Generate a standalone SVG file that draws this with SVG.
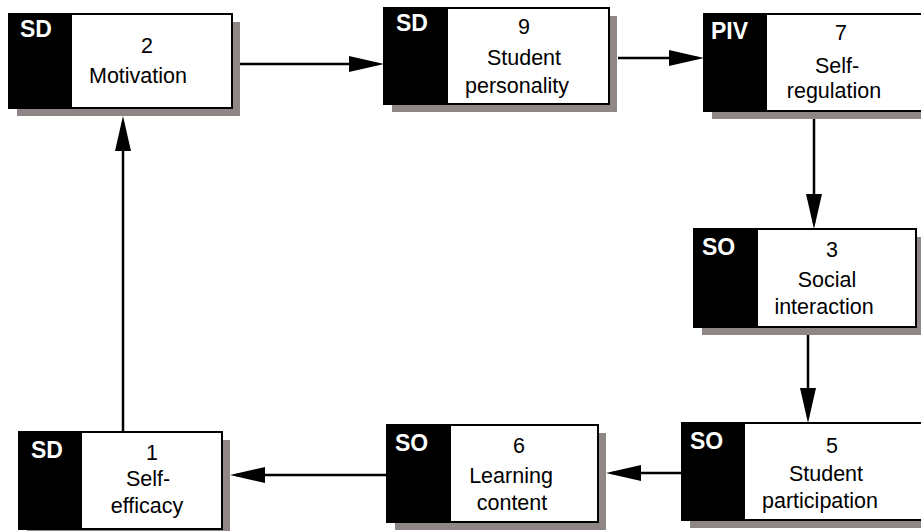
<svg xmlns="http://www.w3.org/2000/svg" width="921" height="531" viewBox="0 0 921 531">
  <style>
    .shadow { fill: #8f8686; }
    .box { fill: #ffffff; stroke: #000000; stroke-width: 2; }
    .tagbg { fill: #000000; }
    .tag { font-family: "Liberation Sans", Arial, sans-serif; font-weight: bold; font-size: 23px; fill: #ffffff; }
    .lbl { font-family: "Liberation Sans", Arial, sans-serif; font-size: 21.5px; fill: #000000; text-anchor: middle; }
    .conn { stroke: #000000; stroke-width: 2.5; fill: none; marker-end: url(#head); }
  </style>
  <defs>
    <marker id="head" viewBox="0 0 35 16" refX="29" refY="8" markerWidth="35" markerHeight="16" markerUnits="userSpaceOnUse" orient="auto">
      <path d="M0,0 L35,8 L0,16 z" fill="#000000"/>
    </marker>
  </defs>
  <rect width="921" height="531" fill="#ffffff"/>

  <!-- connectors -->
  <g id="connectors">
    <line class="conn" x1="240" y1="64" x2="378" y2="64"/>
    <line class="conn" x1="618" y1="58" x2="698" y2="58"/>
    <line class="conn" x1="814" y1="118" x2="814" y2="223"/>
    <line class="conn" x1="808" y1="334" x2="808" y2="417"/>
    <line class="conn" x1="682" y1="473" x2="612" y2="473"/>
    <line class="conn" x1="387" y1="475" x2="236" y2="475"/>
    <line class="conn" x1="123" y1="432" x2="123" y2="122"/>
  </g>

  <!-- 2 Motivation -->
  <g id="node-2">
    <rect class="shadow" x="17" y="22" width="223" height="94"/>
    <rect class="box" x="9" y="14" width="223" height="94"/>
    <rect class="tagbg" x="9" y="14" width="63" height="94"/>
    <text class="tag" x="20" y="37">SD</text>
    <text class="lbl" x="147" y="53">2</text>
    <text class="lbl" x="138" y="83">Motivation</text>
  </g>

  <!-- 9 Student personality -->
  <g id="node-9">
    <rect class="shadow" x="392" y="16" width="225" height="96"/>
    <rect class="box" x="384" y="8" width="225" height="96"/>
    <rect class="tagbg" x="384" y="8" width="64" height="96"/>
    <text class="tag" x="396" y="31">SD</text>
    <text class="lbl" x="524" y="34">9</text>
    <text class="lbl" x="524" y="65">Student</text>
    <text class="lbl" x="517" y="93">personality</text>
  </g>

  <!-- 7 Self-regulation -->
  <g id="node-7">
    <rect class="shadow" x="712" y="22" width="225" height="97"/>
    <rect class="box" x="704" y="14" width="225" height="97"/>
    <rect class="tagbg" x="704" y="14" width="63" height="97"/>
    <text class="tag" x="711" y="39">PIV</text>
    <text class="lbl" x="841" y="40">7</text>
    <text class="lbl" x="837" y="73">Self-</text>
    <text class="lbl" x="834" y="98">regulation</text>
  </g>

  <!-- 3 Social interaction -->
  <g id="node-3">
    <rect class="shadow" x="702" y="237" width="222" height="98"/>
    <rect class="box" x="694" y="229" width="222" height="98"/>
    <rect class="tagbg" x="694" y="229" width="64" height="98"/>
    <text class="tag" x="702" y="255">SO</text>
    <text class="lbl" x="832" y="257">3</text>
    <text class="lbl" x="827" y="287">Social</text>
    <text class="lbl" x="824" y="314">interaction</text>
  </g>

  <!-- 5 Student participation -->
  <g id="node-5">
    <rect class="shadow" x="690" y="431" width="250" height="97"/>
    <rect class="box" x="682" y="423" width="250" height="97"/>
    <rect class="tagbg" x="682" y="423" width="63" height="97"/>
    <text class="tag" x="690" y="449">SO</text>
    <text class="lbl" x="832" y="453">5</text>
    <text class="lbl" x="826" y="481">Student</text>
    <text class="lbl" x="820" y="508">participation</text>
  </g>

  <!-- 6 Learning content -->
  <g id="node-6">
    <rect class="shadow" x="395" y="433" width="211" height="97"/>
    <rect class="box" x="387" y="425" width="211" height="97"/>
    <rect class="tagbg" x="387" y="425" width="64" height="97"/>
    <text class="tag" x="395" y="451">SO</text>
    <text class="lbl" x="519" y="453">6</text>
    <text class="lbl" x="511" y="483">Learning</text>
    <text class="lbl" x="512" y="510">content</text>
  </g>

  <!-- 1 Self-efficacy -->
  <g id="node-1">
    <rect class="shadow" x="27" y="440" width="203" height="97"/>
    <rect class="box" x="19" y="432" width="203" height="97"/>
    <rect class="tagbg" x="19" y="432" width="63" height="97"/>
    <text class="tag" x="31" y="458">SD</text>
    <text class="lbl" x="152" y="460">1</text>
    <text class="lbl" x="148" y="486">Self-</text>
    <text class="lbl" x="147" y="513">efficacy</text>
  </g>
</svg>
